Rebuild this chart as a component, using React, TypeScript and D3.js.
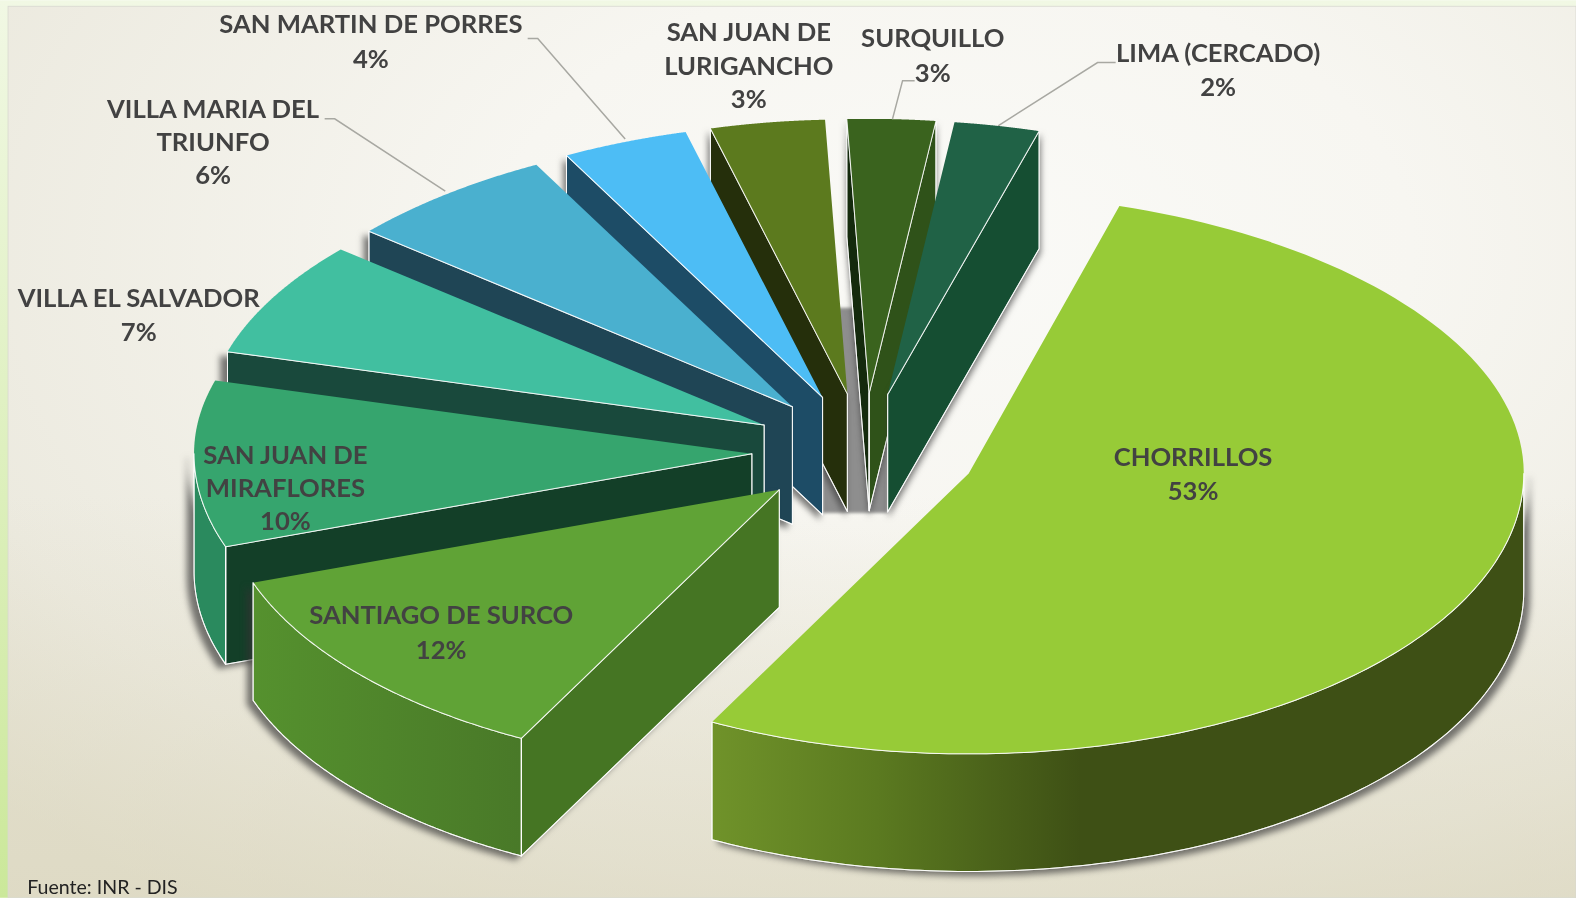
import React from "react";
import * as d3 from "d3";

// ---- data ----
const districts = ["CHORRILLOS","SANTIAGO DE SURCO","SAN JUAN DE MIRAFLORES","VILLA EL SALVADOR","VILLA MARIA DEL TRIUNFO","SAN MARTIN DE PORRES","SAN JUAN DE LURIGANCHO","SURQUILLO","LIMA (CERCADO)"];
// drawn angular shares, as estimated from the wedges
const shares = [53.2, 12, 9.6, 6.7, 6.2, 3.8, 3.5, 2.7, 2.6];
const percentLabels = ["53%","12%","10%","7%","6%","4%","3%","3%","2%"];

// ---- styling ----
const topColors = ["#97CB37","#60A336","#36A56E","#41BFA0","#4AB0CF","#4DBDF5","#5C7A1E","#3A631E","#206246"];
const rimColors = ["url(#chorrRim)","url(#surcoRim)","#2A8A5E","#19493C","#1F4555","#1D4C66","#252F0B","#2F5219","#154E32"];
const cutStart = ["#3E5015","#457523","#133F28","#19493C","#1F4555","#1D4C66","#252F0B","#142A0D","#154E32"];
const cutEnd = ["#3E5015","#457523","#133F28","#19493C","#1F4555","#1D4C66","#252F0B","#2F5219","#154E32"];
const drawOrder = [7,8,6,5,4,3,2,1,0];
const labelLines: string[][] = [["CHORRILLOS"],["SANTIAGO DE SURCO"],["SAN JUAN DE","MIRAFLORES"],["VILLA EL SALVADOR"],["VILLA MARIA DEL","TRIUNFO"],["SAN MARTIN DE PORRES"],["SAN JUAN DE","LURIGANCHO"],["SURQUILLO"],["LIMA (CERCADO)"]];
const labelX = [1187,439,284,138,212,369,745,928,1212];
const labelY = [463,621,461,305,117,33,41,47,61];
const lineStep = [34,34,33,34,33,34,33,34,34];
const leaders = [
  [[525,38],[535,38],[622,138]],
  [[323,118],[333,118],[443,190]],
  [[910,80],[898,80],[888,118]],
  [[1110,62],[1092,62],[993,125]],
];

const CX = 860, CY = 449, RX = 555, RY_BACK = 273, RY_FRONT = 279, DEPTH = 117, EXX = 112, EXY = 58;
const rotation = (16.6 * Math.PI) / 180;
const rad90 = Math.PI / 2, rad270 = (3 * Math.PI) / 2;

const pie = d3.pie<number>().sort(null).startAngle(rotation).endAngle(rotation + 2 * Math.PI);
const arcs = pie(shares);
const line = d3.line<[number, number]>();

const apex = (i: number): [number, number] => {
  const mid = (arcs[i].startAngle + arcs[i].endAngle) / 2;
  return [CX + EXX * Math.sin(mid), CY - EXY * Math.cos(mid)];
};

function build(i: number) {
  const a = arcs[i];
  const mid = (a.startAngle + a.endAngle) / 2;
  const [ax, ay] = apex(i);
  const scaleX = i === 0 ? 0.995 : 1;
  const scaleBack = i === 0 ? 1.015 : 1;
  const pt = (t: number): [number, number] => {
    const c = Math.cos(t);
    const rx = (RX - 30 * Math.pow(Math.max(0, c), 2)) * scaleX;
    const ry = c > 0 ? (RY_BACK + 10 * (1 - c)) * scaleBack : RY_FRONT;
    return [ax + rx * Math.sin(t), ay - ry * c];
  };
  const samples = (s: number, e: number) => d3.range(0, 121).map((k) => pt(s + ((e - s) * k) / 120));
  const down = (p: [number, number]): [number, number] => [p[0], p[1] + DEPTH];
  const top = line([[ax, ay], ...samples(a.startAngle, a.endAngle)])! + "Z";
  const wall = (t: number) => {
    const p = pt(t);
    return line([[ax, ay], p, down(p), [ax, ay + DEPTH]])! + "Z";
  };
  const norm = (t: number) => ((t % (2 * Math.PI)) + 2 * Math.PI) % (2 * Math.PI);
  const startVisible = norm(a.startAngle) > Math.PI;
  const endVisible = norm(a.endAngle) < Math.PI;
  const s = Math.max(a.startAngle, rad90), e = Math.min(a.endAngle, rad270);
  let rim: string | null = null;
  if (e > s) {
    const upper = samples(s, e);
    rim = line([...upper, ...upper.slice().reverse().map(down)])! + "Z";
  }
  return { top, rim, startWall: startVisible ? wall(a.startAngle) : null, endWall: endVisible ? wall(a.endAngle) : null, shadowX: 7 * Math.sin(mid), shadowY: 4 };
}

const edge = { stroke: "#ffffff", strokeOpacity: 0.85, strokeWidth: 1, strokeLinejoin: "round" as const };

export default function App() {
  const coreX0 = apex(5)[0], coreX1 = apex(8)[0], coreY1 = apex(7)[1] + DEPTH + 2, coreY0 = apex(7)[1] - 85;
  return (
    <svg width={1576} height={898} viewBox="0 0 1568 893" style={{ position: "fixed", left: 0, top: 0, display: "block" }}>
      <defs>
        <linearGradient id="frame" x1="0" y1="0" x2="0" y2="1">
          <stop offset="0" stopColor="#F1F8E4" />
          <stop offset="1" stopColor="#CBE89A" />
        </linearGradient>
        <radialGradient id="panel" gradientUnits="userSpaceOnUse" cx={0} cy={0} r={1} gradientTransform="translate(950 250) scale(1300 800)">
          <stop offset="0" stopColor="#FAFAF7" />
          <stop offset="0.35" stopColor="#F7F6F1" />
          <stop offset="0.8" stopColor="#ECEADF" />
          <stop offset="1" stopColor="#E4E1D0" />
        </radialGradient>
        <linearGradient id="panelFoot" x1="0" y1="0" x2="0" y2="1">
          <stop offset="0.55" stopColor="#DAD5BC" stopOpacity={0} />
          <stop offset="1" stopColor="#DAD5BC" stopOpacity={0.55} />
        </linearGradient>
        <linearGradient id="chorrRim" gradientUnits="userSpaceOnUse" x1={706} y1={0} x2={1075} y2={0}>
          <stop offset="0" stopColor="#70932A" />
          <stop offset="0.45" stopColor="#5B7A20" />
          <stop offset="1" stopColor="#3E5015" />
        </linearGradient>
        <linearGradient id="surcoRim" gradientUnits="userSpaceOnUse" x1={252} y1={0} x2={517} y2={0}>
          <stop offset="0" stopColor="#55912E" />
          <stop offset="1" stopColor="#497928" />
        </linearGradient>
        <filter id="soft" x="-20%" y="-20%" width="140%" height="140%"><feGaussianBlur stdDeviation={1.5} /></filter>
      </defs>
      <rect x={0} y={0} width={1568} height={893} fill="url(#frame)" />
      <rect x={8} y={6} width={1560} height={887} fill="url(#panel)" />
      <rect x={8} y={6} width={1560} height={887} fill="url(#panelFoot)" stroke="#d8d8d0" strokeWidth={0.8} />
      {leaders.map((l, i) => (
        <path key={i} d={line(l as [number, number][])!} fill="none" stroke="#A8A8A2" strokeWidth={1.5} />
      ))}
      <rect x={coreX0} y={coreY0} width={coreX1 - coreX0} height={coreY1 - coreY0} fill="#8E8E8E" filter="url(#soft)" />
      {drawOrder.map((i) => {
        const g = build(i);
        return (
          <g key={districts[i]}>
            <g style={{ filter: `drop-shadow(${g.shadowX}px ${g.shadowY}px 3px rgba(50,50,50,0.65))` }}>
              {g.startWall && <path d={g.startWall} fill={cutStart[i]} {...edge} />}
              {g.endWall && <path d={g.endWall} fill={cutEnd[i]} {...edge} />}
              {g.rim && <path d={g.rim} fill={rimColors[i]} {...edge} />}
            </g>
            <path d={g.top} fill={topColors[i]} />
            {g.rim && <path d={g.rim} fill="none" {...edge} />}
            {g.startWall && <path d={g.startWall} fill="none" {...edge} />}
            {g.endWall && <path d={g.endWall} fill="none" {...edge} />}
          </g>
        );
      })}
      <g fontFamily="Lato" fontWeight={700} fontSize={25.5} fill="#424242" textAnchor="middle">
        {districts.map((d, i) => (
          <text key={d} x={labelX[i]} y={labelY[i]}>
            {labelLines[i].map((t, k) => (
              <tspan key={t} x={labelX[i]} dy={k === 0 ? 0 : lineStep[i]}>{t}</tspan>
            ))}
            <tspan x={labelX[i]} dy={lineStep[i]}>{percentLabels[i]}</tspan>
          </text>
        ))}
      </g>
      <text x={27} y={889.5} fontFamily="Lato" fontSize={19.5} fill="#222">Fuente: INR - DIS</text>
    </svg>
  );
}
